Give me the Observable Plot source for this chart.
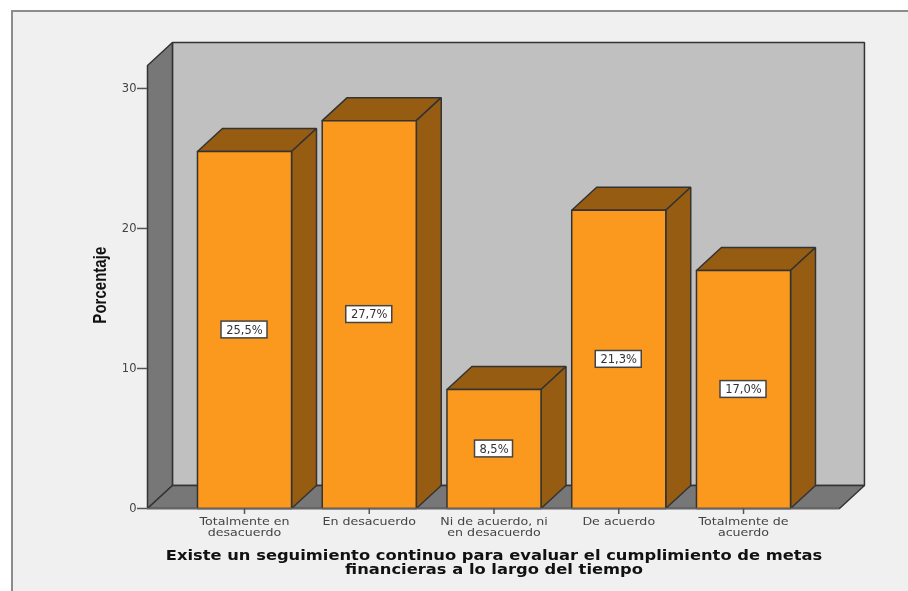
<!DOCTYPE html>
<html><head><meta charset="utf-8">
<script src="https://cdn.jsdelivr.net/npm/d3@7"></script>
<script src="https://cdn.jsdelivr.net/npm/@observablehq/plot@0.6"></script>
<style>
html,body{margin:0;padding:0;background:#fff;width:908px;height:591px;overflow:hidden}
#panel{position:absolute;left:11px;top:10px;width:897px;height:581px;background:#f0f0f0;border-left:2px solid #8c8c8c;border-top:2px solid #8c8c8c}
#chart{position:absolute;left:0;top:0;width:908px;height:591px}
#chart svg{background:transparent;display:block;filter:blur(0.35px)}
</style></head><body>
<div id="panel"></div><div id="chart"></div>
<script>
const categories = ["Totalmente en\ndesacuerdo","En desacuerdo","Ni de acuerdo, ni\nen desacuerdo","De acuerdo","Totalmente de\nacuerdo"];
const values = [25.5,27.7,8.5,21.3,17.0];
const valueLabels = ["25,5%","27,7%","8,5%","21,3%","17,0%"];
const yTicks = [0,10,20,30];
const xTitle = "Existe un seguimiento continuo para evaluar el cumplimiento de metas\nfinancieras a lo largo del tiempo";
const yTitle = "Porcentaje";

// chart box in scale units: one category = 1 x unit, depth expressed in scale units
const xMin=-0.7776, xMax=4.7695, yMax=31.64, depthX=0.2, depthY=1.643, half=0.377;
const C={front:"#fb991f",side:"#965c12",wall:"#c0c0c0",sideWall:"#777777",edge:"#333333"};

const poly=(key,pts)=>[...pts,pts[0]].map(([x,y])=>({key,x,y}));
const backWall=poly("back",[[xMin+depthX,depthY],[xMax+depthX,depthY],[xMax+depthX,yMax+depthY],[xMin+depthX,yMax+depthY]]);
const leftWall=poly("left",[[xMin,0],[xMin+depthX,depthY],[xMin+depthX,yMax+depthY],[xMin,yMax]]);
const floor=poly("floor",[[xMin,0],[xMax,0],[xMax+depthX,depthY],[xMin+depthX,depthY]]);
const barTops=values.flatMap((v,i)=>poly("t"+i,[[i-half,v],[i+half,v],[i+half+depthX,v+depthY],[i-half+depthX,v+depthY]]));
const barSides=values.flatMap((v,i)=>poly("s"+i,[[i+half,0],[i+half+depthX,depthY],[i+half+depthX,v+depthY],[i+half,v]]));
const barFronts=values.flatMap((v,i)=>poly("f"+i,[[i-half,0],[i+half,0],[i+half,v],[i-half,v]]));
const shape=(d,fill,sw=1.5)=>Plot.line(d,{x:"x",y:"y",z:"key",fill,stroke:C.edge,strokeWidth:sw,strokeLinejoin:"miter"});

const rows=values.map((v,i)=>({i,v,label:valueLabels[i],hw:(valueLabels[i].length*8+6)/2/124.75}));
// bars drawn one by one, left to right
const barMarks=values.flatMap((v,i)=>[
  shape(barTops.filter(d=>d.key==="t"+i),C.side),
  shape(barSides.filter(d=>d.key==="s"+i),C.side),
  shape(barFronts.filter(d=>d.key==="f"+i),C.front)
]);

const plot=Plot.plot({
  width:908,height:591,marginLeft:147,marginRight:69,marginTop:65,marginBottom:83,
  style:{background:"transparent",fontFamily:"'DejaVu Sans',sans-serif",overflow:"visible"},
  x:{type:"linear",domain:[xMin,xMax]},
  y:{domain:[0,yMax]},
  marks:[
    shape(backWall,C.wall),
    shape(leftWall,C.sideWall),
    shape(floor,C.sideWall),
    ...barMarks,
    Plot.ruleY([0],{x1:xMin,x2:xMax,stroke:"#666",strokeWidth:1.5}),
    Plot.axisY({ticks:yTicks,tickSize:10,tickPadding:1,label:null,fontSize:11.5,color:"#444",stroke:"#555",strokeWidth:1.5,anchor:"left",x:xMin}),
    Plot.axisX({ticks:[0,1,2,3,4],tickSize:6,tickPadding:3,label:null,fontSize:11,fontFamily:"'DejaVu Sans'",color:"#444",stroke:"#555",strokeWidth:1.5,lineHeight:1,tickFormat:i=>categories[i],textOverflow:null}),
    Plot.rect(rows,{x1:d=>d.i-d.hw,x2:d=>d.i+d.hw,y1:d=>d.v/2-0.6,y2:d=>d.v/2+0.6,fill:"#fff",stroke:"#444",strokeWidth:1.5}),
    Plot.text(rows,{x:"i",y:d=>d.v/2,text:"label",fontSize:11.5,fill:"#333"}),
    Plot.text([xTitle],{x:()=>2,y:()=>0,dy:54,text:d=>d,fontSize:13.6,fontWeight:"bold",fill:"#111",lineHeight:1.03,lineAnchor:"middle",fontFamily:"'DejaVu Sans'"}),
    Plot.text([yTitle],{x:()=>xMin,y:()=>15.95,dx:-47,rotate:-90,text:d=>d,fontSize:17,fontWeight:"bold",fill:"#111",fontFamily:"'Liberation Sans Narrow','Liberation Sans'"})
  ]
});
// The reference's text is stretched with the picture; stretch the text elements the same way
const stretch=(test,sx,sy=1)=>plot.querySelectorAll("text").forEach(t=>{
  if(test(t.textContent)) t.setAttribute("transform",(t.getAttribute("transform")||"")+` scale(${sx},${sy})`);
});
stretch(s=>s.startsWith("Existe"),1.2);
stretch(s=>s===yTitle,0.885,1.05);
const flat=categories.map(c=>c.replace("\n",""));
stretch(s=>flat.includes(s),1.15);
document.getElementById("chart").appendChild(plot);
</script></body></html>
